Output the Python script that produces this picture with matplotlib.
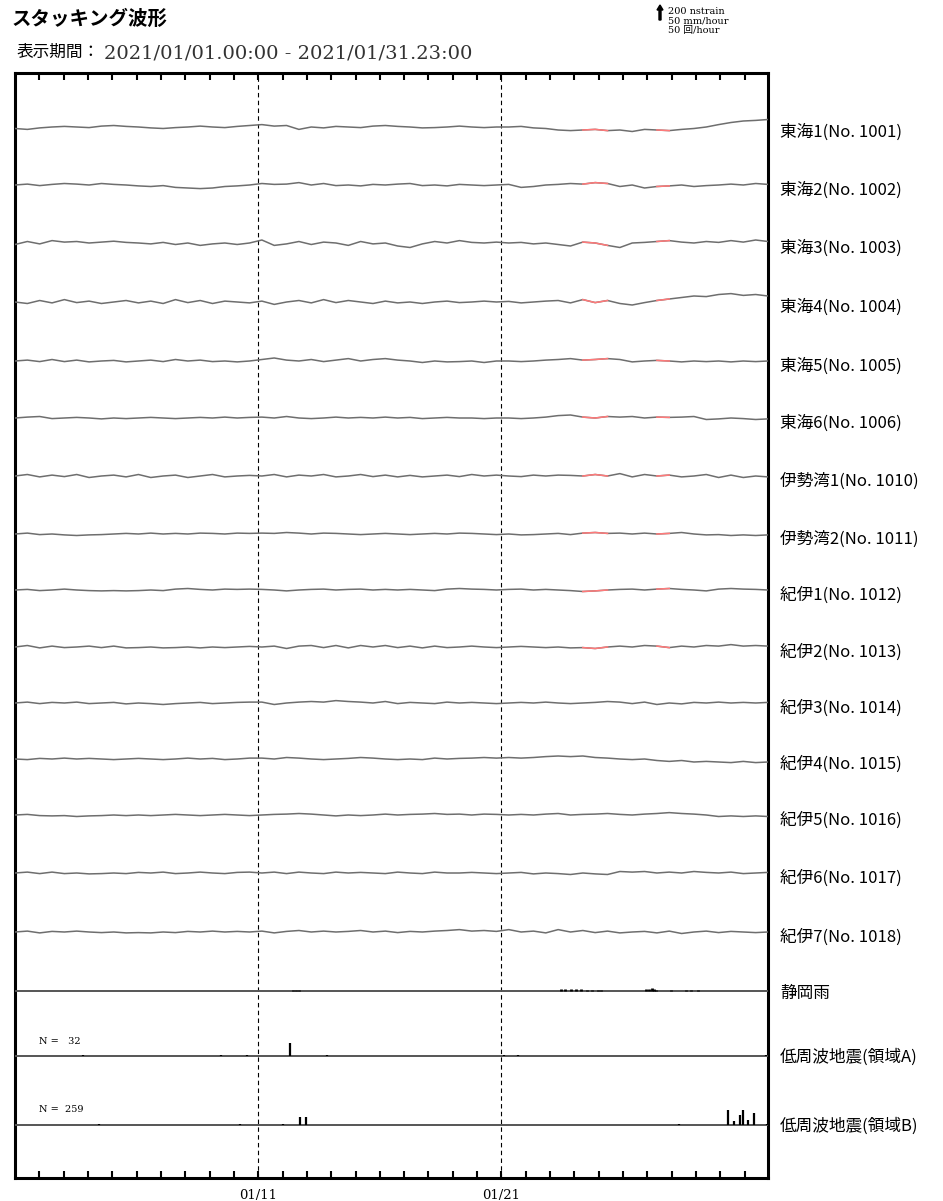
import numpy as np
import matplotlib
matplotlib.use('Agg')
import matplotlib.pyplot as plt

plt.rcParams['font.family'] = ['Noto Sans CJK JP', 'DejaVu Sans']

# ── Data ─────────────────────────────────────────────
# strain traces, sampled about every 12 hours over the period (arbitrary units, up = +)
station_names = ["東海1(No. 1001)", "東海2(No. 1002)", "東海3(No. 1003)", "東海4(No. 1004)",
                 "東海5(No. 1005)", "東海6(No. 1006)", "伊勢湾1(No. 1010)", "伊勢湾2(No. 1011)",
                 "紀伊1(No. 1012)", "紀伊2(No. 1013)", "紀伊3(No. 1014)", "紀伊4(No. 1015)",
                 "紀伊5(No. 1016)", "紀伊6(No. 1017)", "紀伊7(No. 1018)"]

tokai1 = [-5, -8, -3, 0, 2, 0, -2, 3, 5, 2, 0, -3, -5, -2, 0, 3, 0, -2, 2, 5,
          8, 3, 5, -8, 0, -3, 2, 0, -2, 3, 5, 2, 0, -3, -2, 0, 3, 0, -2, 0,
          0, 2, -3, -5, -10, -12, -10, -8, -12, -10, -15, -8, -10, -12, -8, -5, 0, 8, 15, 20, 22, 25]
tokai2 = [0, 3, -2, 2, 5, 3, 0, 5, 2, 0, -3, -5, -2, -8, -10, -12, -10, -5, -3, 0,
          5, 2, 3, 8, 0, 5, -2, 0, -3, 2, 0, 3, 5, -2, 0, -3, 2, 0, -2, 0,
          2, -8, -5, 0, 2, 5, 3, 8, 5, -5, 0, -10, -5, -3, 0, -5, -2, 0, 3, 0, 5, 2]
tokai3 = [-5, 5, -3, 8, 3, 5, 0, 3, 6, 2, 0, -3, 2, -5, 0, -8, -3, 0, -5, 0,
          10, -8, -3, 5, -5, 3, 0, -8, 5, -3, 0, -10, -15, -3, 5, 0, 8, 2, 0, 3,
          0, 2, -3, 0, -5, -10, 3, 0, -8, -15, 0, 2, 5, 8, 3, 0, 5, 2, 8, 3, 10, 5]
tokai4 = [0, -5, 5, -3, 8, -2, 3, -5, 0, 5, -3, 3, -5, 8, -2, 5, -5, 3, 0, -3,
          3, -8, 0, 5, -3, 8, -2, 5, 0, -5, 3, -3, 0, -5, 0, 3, -2, 0, 3, 0,
          2, -3, 0, 3, 5, -3, 8, -2, 5, -5, -10, -2, 5, 10, 15, 20, 18, 25, 28, 22, 25, 20]
tokai5 = [0, 3, -2, 5, -2, 3, -3, 0, 2, -3, 0, 3, -2, 5, 0, 3, -2, 0, -3, 0,
          5, 10, 3, 0, 5, -2, 3, 8, 0, 5, 8, 3, 0, -5, 0, -3, -2, 0, -5, 0,
          0, -2, 0, 3, 5, 8, 3, 5, 8, 5, -3, 0, 2, 0, -3, 0, -2, 0, -3, 0, -2, 0]
tokai6 = [0, 3, 5, -2, 0, 2, 0, -3, 0, -2, 0, 2, 0, -2, 0, 2, 0, 3, 0, 2,
          3, 0, 5, 0, -2, 0, 3, 0, 2, 0, 3, 0, 2, -2, 0, 2, 0, 0, -2, 0,
          0, -2, 0, 3, 8, 10, 3, 0, 5, 3, 5, 0, 3, 2, 3, 5, -5, -3, 0, -2, -5, -3]
isewan1 = [0, 5, -3, 3, -2, 5, -5, 0, 3, -3, 5, -5, 0, 3, -5, 0, 5, -3, 0, 2,
           0, 5, -3, 3, 0, 5, -3, 0, 5, -2, 3, -3, 2, -3, 0, 3, -2, 5, 0, 3,
           0, -2, 3, 0, 3, 2, 0, 5, 0, 8, -3, 5, 0, 3, -3, 0, 5, -5, 3, -5, 0, -3]
isewan2 = [0, 3, -2, 0, -3, -5, -3, -2, 0, 2, 0, 3, 0, 2, 0, 3, 2, 0, 3, 2,
           3, 2, 5, 3, 0, 3, 2, 0, -2, 0, 2, 0, -2, 0, 2, 0, 3, 2, 0, -2,
           0, -3, -2, 0, 2, -2, 3, 5, 2, 3, 0, 3, 0, 2, 5, 0, -3, -2, -5, -3, -5, -3]
kii1 = [0, 2, -2, 0, 3, 0, -2, -3, -2, -3, -2, 0, -2, 3, 5, 2, 0, 3, 2, 3,
        2, 0, -3, 0, 2, 3, 0, 2, 3, 0, 2, 0, 2, 0, -2, 3, 5, 3, 2, 0,
        2, 3, 0, 2, 0, -2, -5, -3, 0, 2, 3, 0, 3, 5, 2, 0, -3, 3, 5, 3, 2, 0]
kii2 = [0, 5, -3, 3, -2, 0, 3, -2, 3, -3, -2, 0, -3, -2, 0, -3, 0, -2, 0, 2,
        0, 3, -5, 3, 5, -2, 5, -3, 5, 0, 5, -2, 3, -3, 3, -2, 0, 3, 0, -2,
        0, 2, 0, -2, 0, -3, -2, -5, 0, 3, 0, 5, 3, -2, 3, 0, 5, 3, 8, 3, 5, 3]
kii3 = [0, 3, -2, 2, 0, 3, -2, 0, 2, -3, 0, -2, -5, -2, 0, 2, -2, 0, 2, 3,
        3, -5, 0, 3, 5, 3, 8, 5, 3, 0, 5, -2, 2, 0, -2, 3, 0, 2, 0, -2,
        0, 2, 0, 3, 0, -2, 0, 2, 5, 3, -2, 3, -5, 0, -3, 2, 0, 3, 0, 2, 0, 2]
kii4 = [0, -2, 2, 0, 3, 0, 2, 0, -2, 0, 2, 0, -2, 0, 3, 0, 2, -2, 0, 3,
        3, 0, 5, 3, 0, -2, 0, 2, 5, 3, 0, -2, 0, -2, 3, 0, 2, 3, 5, 3,
        5, 3, 5, 8, 10, 8, 10, 5, 3, 0, -2, 0, -5, -8, -5, -10, -8, -10, -12, -8, -12, -10]
kii5 = [0, 2, -2, -3, -2, -5, -3, -2, 0, -2, 0, -2, 0, 2, 0, -2, 0, 2, 0, -2,
        0, 2, 3, 5, 3, 0, -3, 0, -2, 0, 3, 0, 2, 3, 5, 2, 3, 0, 3, 2,
        0, 2, 0, 3, 5, 0, 2, 3, 5, 2, 0, 3, 5, 8, 5, 3, 0, -5, -3, -5, -3, -5]
kii6 = [0, 3, -2, 3, -2, 0, -3, -2, 0, -2, 2, 0, 3, -2, 0, 3, 0, -2, 2, 3,
        0, 3, -2, 3, 0, -2, 3, 0, 2, 0, -2, 3, 0, -2, 3, 0, 0, 2, 0, -2,
        0, 2, -3, 0, -2, -5, 0, -3, -5, 5, 3, 5, 0, 3, 0, 5, 2, 0, 3, -2, 0, 2]
kii7 = [0, 3, -3, 2, 0, 3, 0, -2, 0, -3, -2, -3, 0, -2, 2, 0, 3, 0, 2, 0,
        3, -3, 2, 5, 0, 3, 0, 2, 5, 0, 3, -2, 2, 0, 3, 5, 8, 3, 5, 2,
        8, 0, 3, -3, 8, 0, 5, -2, 3, -3, 0, 2, -3, 3, -5, 0, 3, -2, 2, 0, -2, 0]

traces = [tokai1, tokai2, tokai3, tokai4, tokai5, tokai6, isewan1, isewan2,
          kii1, kii2, kii3, kii4, kii5, kii6, kii7]

# periods drawn in red on the strain traces (day offset)
red_periods = [(23.3, 24.7), (25.9, 26.95)]

# Shizuoka rain (day offset, mm/hour)
rain_day = [11.44, 11.56, 11.69, 22.43, 22.63, 22.84, 23.05, 23.25, 23.5, 23.74, 23.95, 24.1,
            25.93, 26.05, 26.17, 26.26, 26.34, 26.95, 27.57, 27.78, 28.1]
rain_mm = [5, 5, 4, 6, 7, 7, 6, 6, 5, 4, 5, 4, 6, 8, 11, 7, 5, 3, 4, 3, 3]

# low-frequency earthquakes (day offset, count/hour)
eqA_day = [2.8, 8.48, 9.55, 11.32, 12.84, 20.12, 20.7, 30.86]
eqA_cnt = [4, 4, 4, 43, 4, 4, 4, 4]
eqB_day = [3.46, 9.26, 11.0, 11.72, 11.97, 27.3, 29.3, 29.55, 29.8, 29.92, 30.12, 30.37, 30.9]
eqB_cnt = [4, 4, 4, 27, 27, 4, 50, 13, 33, 50, 17, 40, 4]
eqA_N = 32
eqB_N = 259

# ── Layout (pixel rows, from top) ────────────────────
W, H = 943, 1201
trace_rows = [127, 185, 243, 302, 361, 418, 476, 534, 590, 647, 703, 759, 815, 873, 932]
rain_row, eqA_row, eqB_row = 991, 1056, 1125
strain_px = 0.3      # px per trace unit
rate_px = 0.3        # px per mm/hour or count/hour (50 -> 15 px)
t_end = 30 + 23 / 24

fig = plt.figure(figsize=(W / 100, H / 100), dpi=100)
ax = fig.add_axes([15 / W, 1 - 1178 / H, (768 - 15) / W, (1178 - 73) / H])
ax.set_xlim(0, t_end)
ax.set_ylim(1178, 73)


def fx(x):
    return x / W


def fy(y):
    return 1 - y / H


# strain traces
for i, (vals, row) in enumerate(zip(traces, trace_rows)):
    v = np.array(vals, dtype=float)
    t = np.linspace(0, t_end, len(v))
    y = row - v * strain_px
    ax.plot(t, y, color='#6e6e6e', lw=1.1, zorder=3)
    if i < 10:
        for a, b in red_periods:
            m = (t >= a) & (t <= b)
            ax.plot(t[m], y[m], color='#ff7a7a', lw=1.1, zorder=4)
    fig.text(fx(780), fy(row + 5), station_names[i], fontsize=12, va='center', ha='left')

# rain + earthquake rows
for row in [rain_row, eqA_row, eqB_row]:
    ax.axhline(row, color='#555555', lw=1.4, zorder=3)

ax.vlines(rain_day, rain_row, rain_row - np.array(rain_mm) * rate_px, color='black', lw=2.0, zorder=4)
ax.vlines(eqA_day, eqA_row, eqA_row - np.array(eqA_cnt) * rate_px, color='black', lw=1.6, zorder=4)
ax.vlines(eqB_day, eqB_row, eqB_row - np.array(eqB_cnt) * rate_px, color='black', lw=1.6, zorder=4)

fig.text(fx(780), fy(rain_row + 2), "静岡雨", fontsize=12, va='center')
fig.text(fx(780), fy(eqA_row + 1), "低周波地震(領域A)", fontsize=12, va='center')
fig.text(fx(780), fy(eqB_row + 1), "低周波地震(領域B)", fontsize=12, va='center')

ax.text(1.0, eqA_row - 15, f"N =   {eqA_N}", fontsize=7, family='DejaVu Serif', va='center')
ax.text(1.0, eqB_row - 15, f"N =  {eqB_N}", fontsize=7, family='DejaVu Serif', va='center')

# dashed day lines
for d in [10, 20]:
    ax.axvline(d, color='black', lw=0.8, ls=(0, (4, 3)), zorder=2)

# ticks
ax.set_xticks(np.arange(1, 31))
ax.set_xticklabels(["01/11" if d == 10 else "01/21" if d == 20 else "" for d in range(1, 31)],
                   family='DejaVu Serif', fontsize=9.5)
ax.tick_params(axis='x', direction='in', length=5, width=1.5, top=True, bottom=True, pad=8)
ax.set_yticks([])
for s in ax.spines.values():
    s.set_linewidth(2.2)

# titles
fig.text(fx(12), fy(19), "スタッキング波形", fontsize=14, weight='bold', va='center')
fig.text(fx(17), fy(52), "表示期間：", fontsize=12, va='center')
fig.text(fx(104), fy(53), "2021/01/01.00:00 - 2021/01/31.23:00", fontsize=14,
         family='DejaVu Serif', color='#333333', va='center')

# scale legend
fig.patches.append(matplotlib.patches.FancyArrow(fx(660), fy(20), 0, 15 / H, width=2 / W,
                                                 head_width=6 / W, head_length=5 / H,
                                                 length_includes_head=True, color='black',
                                                 transform=fig.transFigure, figure=fig))
for k, s in enumerate(["200 nstrain", "50 mm/hour", "50 回/hour"]):
    fig.text(fx(668), fy(11 + k * 9.5), s, fontsize=7, family=['DejaVu Serif', 'Noto Sans CJK JP'],
             va='center')

fig.savefig("out.png", dpi=100)
print("saved")
